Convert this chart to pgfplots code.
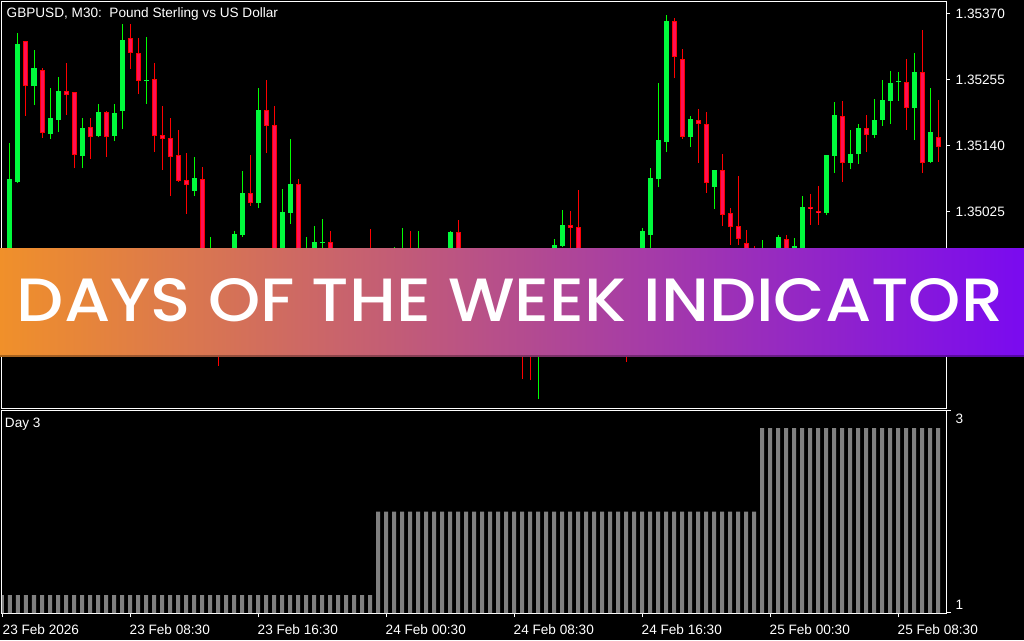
\documentclass[border=0pt]{standalone}
\usepackage{fontspec}
\setmainfont{Liberation Sans}
\usepackage{graphicx}
\usepackage{pgfplots}
\usepackage{pgfplotstable}
\pgfplotsset{compat=1.18}
\IfFontExistsTF{Poppins Medium}{\newfontfamily\bannerfont{Poppins Medium}\newcommand\bannerweight{}}{\newfontfamily\bannerfont{Poppins}\newcommand\bannerweight{\bfseries}}
\newcommand\tickfont{\fontsize{13.6}{16}\selectfont}
\definecolor{wickG}{RGB}{0,255,0}
\definecolor{bodyG}{RGB}{0,250,60}
\definecolor{wickR}{RGB}{255,0,0}
\definecolor{bodyR}{RGB}{255,15,85}
\definecolor{barG}{RGB}{128,128,128}
\definecolor{banL}{RGB}{240,144,42}
\definecolor{banR}{RGB}{122,10,240}

\pgfplotstableread{
k o h l c
1 1.34885 1.35145 1.34867 1.35082
2 1.35077 1.35337 1.35075 1.35318
4 1.35244 1.35307 1.35211 1.35276
6 1.35161 1.35241 1.35152 1.35188
7 1.35185 1.35260 1.35164 1.35236
10 1.35122 1.35188 1.35101 1.35171
12 1.35157 1.35213 1.35155 1.35199
14 1.35157 1.35213 1.35148 1.35197
15 1.35201 1.35353 1.35169 1.35325
18 1.35253 1.35330 1.35213 1.35255
24 1.35061 1.35120 1.35052 1.35084
26 1.34871 1.34981 1.34862 1.34937
28 1.34810 1.34888 1.34792 1.34871
29 1.34871 1.34991 1.34853 1.34986
30 1.34984 1.35096 1.34981 1.35058
32 1.35040 1.35241 1.35031 1.35202
35 1.34923 1.35065 1.34897 1.35024
36 1.35023 1.35152 1.35004 1.35073
38 1.34897 1.34981 1.34880 1.34949
39 1.34923 1.35000 1.34909 1.34972
40 1.34970 1.35012 1.34937 1.34972
43 1.34888 1.34913 1.34871 1.34902
45 1.34885 1.34932 1.34874 1.34923
47 1.34902 1.34937 1.34892 1.34927
49 1.34888 1.34963 1.34878 1.34937
50 1.34937 1.34997 1.34923 1.34951
52 1.34923 1.34991 1.34902 1.34949
55 1.34885 1.34944 1.34874 1.34932
56 1.34932 1.34991 1.34915 1.34990
60 1.34850 1.34888 1.34839 1.34874
63 1.34819 1.34850 1.34808 1.34836
67 1.34775 1.34819 1.34698 1.34810
68 1.34810 1.34892 1.34798 1.34885
69 1.34885 1.34977 1.34878 1.34967
70 1.34965 1.35028 1.34963 1.35002
74 1.34850 1.34880 1.34839 1.34871
77 1.34805 1.34836 1.34784 1.34822
79 1.34801 1.34871 1.34787 1.34862
80 1.34862 1.34997 1.34853 1.34991
81 1.34984 1.35101 1.34941 1.35084
82 1.35082 1.35250 1.35068 1.35150
83 1.35147 1.35368 1.35129 1.35358
86 1.35155 1.35192 1.35138 1.35187
89 1.35068 1.35098 1.35030 1.35098
95 1.34888 1.34976 1.34874 1.34923
97 1.34906 1.34984 1.34897 1.34981
99 1.34932 1.34979 1.34923 1.34965
100 1.34937 1.35052 1.34927 1.35033
103 1.35023 1.35124 1.35019 1.35124
104 1.35122 1.35216 1.35093 1.35194
106 1.35110 1.35168 1.35099 1.35126
107 1.35126 1.35178 1.35108 1.35171
109 1.35159 1.35222 1.35154 1.35185
110 1.35185 1.35255 1.35175 1.35220
111 1.35218 1.35271 1.35178 1.35250
112 1.35251 1.35269 1.35218 1.35253
114 1.35206 1.35302 1.35150 1.35269
116 1.35112 1.35241 1.35110 1.35164
}\bull

\pgfplotstableread{
k o h l c
0 1.34915 1.34937 1.34878 1.34892
3 1.35323 1.35323 1.35192 1.35244
5 1.35272 1.35276 1.35154 1.35162
8 1.35236 1.35284 1.35194 1.35229
9 1.35234 1.35234 1.35101 1.35124
11 1.35173 1.35188 1.35117 1.35155
13 1.35199 1.35201 1.35120 1.35155
16 1.35328 1.35353 1.35274 1.35302
17 1.35302 1.35328 1.35230 1.35253
19 1.35257 1.35284 1.35129 1.35157
20 1.35159 1.35209 1.35098 1.35152
21 1.35154 1.35188 1.35052 1.35120
22 1.35124 1.35168 1.35077 1.35079
23 1.35080 1.35127 1.35021 1.35072
25 1.35082 1.35103 1.34888 1.34915
27 1.34932 1.34949 1.34756 1.34819
31 1.35058 1.35124 1.35035 1.35040
33 1.35202 1.35255 1.35127 1.35175
34 1.35176 1.35209 1.34906 1.34927
37 1.35073 1.35082 1.34897 1.34923
41 1.34972 1.34991 1.34888 1.34906
42 1.34906 1.34927 1.34874 1.34888
44 1.34902 1.34923 1.34878 1.34885
46 1.34923 1.34995 1.34888 1.34902
48 1.34927 1.34944 1.34880 1.34888
51 1.34951 1.34991 1.34909 1.34923
53 1.34949 1.34955 1.34897 1.34909
54 1.34909 1.34937 1.34871 1.34885
57 1.34990 1.35010 1.34906 1.34920
58 1.34920 1.34937 1.34871 1.34880
59 1.34880 1.34897 1.34836 1.34850
61 1.34874 1.34892 1.34827 1.34839
62 1.34839 1.34862 1.34805 1.34819
64 1.34836 1.34853 1.34792 1.34805
65 1.34805 1.34833 1.34733 1.34784
66 1.34784 1.34810 1.34731 1.34775
71 1.35002 1.35026 1.34937 1.34997
72 1.34998 1.35063 1.34871 1.34888
73 1.34888 1.34906 1.34836 1.34850
75 1.34871 1.34888 1.34819 1.34833
76 1.34833 1.34862 1.34792 1.34805
78 1.34822 1.34845 1.34763 1.34801
84 1.35358 1.35363 1.35258 1.35295
85 1.35291 1.35309 1.35152 1.35155
87 1.35185 1.35204 1.35110 1.35178
88 1.35178 1.35199 1.35058 1.35075
90 1.35098 1.35126 1.35000 1.35019
91 1.35023 1.35031 1.34967 1.34998
92 1.35000 1.35087 1.34967 1.34977
93 1.34970 1.34993 1.34897 1.34915
94 1.34915 1.34965 1.34871 1.34888
96 1.34923 1.34944 1.34888 1.34906
98 1.34977 1.34984 1.34920 1.34932
101 1.35033 1.35056 1.35002 1.35030
102 1.35026 1.35070 1.35002 1.35023
105 1.35192 1.35218 1.35077 1.35110
108 1.35171 1.35194 1.35129 1.35159
113 1.35251 1.35291 1.35168 1.35206
115 1.35269 1.35342 1.35093 1.35110
117 1.35155 1.35220 1.35112 1.35138
}\bear

\begin{document}
\begin{tikzpicture}[x=1pt,y=1pt]
\fill[black] (0,0) rectangle (1024,640);
\useasboundingbox (0,0) rectangle (1024,640);

% ---------- price panel ----------
\begin{axis}[
  at={(2pt,232pt)}, anchor=south west,
  width=944pt, height=406pt, scale only axis,
  xmin=0, xmax=118, ymin=1.346824, ymax=1.353909,
  axis line style={white, line width=1pt},
  xtick=\empty,
  ytick={1.35370,1.35255,1.35140,1.35025},
  yticklabels={1.35370,1.35255,1.35140,1.35025},
  ytick pos=right, yticklabel pos=right,
  tick align=outside, major tick length=4pt,
  tick style={white, line width=1pt},
  yticklabel style={anchor=west, inner sep=0pt, xshift=5.5pt, text=white, font=\tickfont},
]
% bullish wicks and bodies
\addplot[draw=none, mark=none, forget plot,
  error bars/.cd, y dir=plus, y explicit, error mark=none,
  error bar style={draw=wickG, line width=1pt}]
  table[x=k, y=l, y error plus expr=\thisrow{h}-\thisrow{l}] {\bull};
\addplot[draw=none, mark=none, forget plot,
  error bars/.cd, y dir=plus, y explicit, error mark=none,
  error bar style={draw=bodyG, line width=5pt}]
  table[x=k, y=o, y error plus expr=\thisrow{c}-\thisrow{o}] {\bull};
% bearish wicks and bodies
\addplot[draw=none, mark=none, forget plot,
  error bars/.cd, y dir=plus, y explicit, error mark=none,
  error bar style={draw=wickR, line width=1pt}]
  table[x=k, y=l, y error plus expr=\thisrow{h}-\thisrow{l}] {\bear};
\addplot[draw=none, mark=none, forget plot,
  error bars/.cd, y dir=plus, y explicit, error mark=none,
  error bar style={draw=wickR, line width=5pt}]
  table[x=k, y=c, y error plus expr=\thisrow{o}-\thisrow{c}] {\bear};
\addplot[draw=none, mark=none, forget plot,
  error bars/.cd, y dir=plus, y explicit, error mark=none,
  error bar style={draw=bodyR, line width=3pt, shorten <=1pt, shorten >=1pt}]
  table[x=k, y=c, y error plus expr=\thisrow{o}-\thisrow{c}] {\bear};
\end{axis}

% ---------- indicator panel ----------
\begin{axis}[
  at={(2pt,27pt)}, anchor=south west,
  width=944pt, height=203pt, scale only axis,
  xmin=0, xmax=118, ymin=0.7844, ymax=3.2156,
  axis line style={white, line width=1pt},
  xtick={0.125,16,32,48,64,80,96,112},
  xticklabels={23 Feb 2026,23 Feb 08:30,23 Feb 16:30,24 Feb 00:30,24 Feb 08:30,24 Feb 16:30,25 Feb 00:30,25 Feb 08:30},
  xtick pos=bottom,
  xticklabel style={anchor=north west, inner sep=0pt, yshift=-7pt, xshift=-0.5pt, text=white, font=\tickfont},
  ytick={0.8802,3.1078}, yticklabels={1,3},
  ytick pos=right, yticklabel pos=right,
  yticklabel style={anchor=west, inner sep=0pt, xshift=5.5pt, text=white, font=\tickfont},
  tick align=outside, major tick length=4pt,
  tick style={white, line width=1pt},
  y tick style={draw=none},
]
\addplot[ybar, bar width=4pt, fill=barG, draw=none] coordinates {
(0,1)(1,1)(2,1)(3,1)(4,1)(5,1)(6,1)(7,1)(8,1)(9,1)(10,1)(11,1)(12,1)(13,1)(14,1)(15,1)
(16,1)(17,1)(18,1)(19,1)(20,1)(21,1)(22,1)(23,1)(24,1)(25,1)(26,1)(27,1)(28,1)(29,1)(30,1)
(31,1)(32,1)(33,1)(34,1)(35,1)(36,1)(37,1)(38,1)(39,1)(40,1)(41,1)(42,1)(43,1)(44,1)(45,1)(46,1)
(47,2)(48,2)(49,2)(50,2)(51,2)(52,2)(53,2)(54,2)(55,2)(56,2)(57,2)(58,2)(59,2)(60,2)(61,2)(62,2)
(63,2)(64,2)(65,2)(66,2)(67,2)(68,2)(69,2)(70,2)(71,2)(72,2)(73,2)(74,2)(75,2)(76,2)(77,2)(78,2)
(79,2)(80,2)(81,2)(82,2)(83,2)(84,2)(85,2)(86,2)(87,2)(88,2)(89,2)(90,2)(91,2)(92,2)(93,2)(94,2)
(95,3)(96,3)(97,3)(98,3)(99,3)(100,3)(101,3)(102,3)(103,3)(104,3)(105,3)(106,3)(107,3)(108,3)
(109,3)(110,3)(111,3)(112,3)(113,3)(114,3)(115,3)(116,3)(117,3)
};
\end{axis}
% short scale marks at the ends of the indicator scale
\draw[white, line width=1pt] (946,229.5) -- (951,229.5);
\draw[white, line width=1pt] (946,27.5) -- (951,27.5);

\node[anchor=base west, inner sep=0pt, text=white, font=\tickfont] at (6.5,622.3) {GBPUSD, M30:\ \ Pound Sterling vs US Dollar};
\node[anchor=base west, inner sep=0pt, text=white, font=\tickfont] at (4.8,212) {Day 3};

% ---------- banner ----------
\shade[left color=banL, right color=banR] (0,283) rectangle (1024,391);
\draw[black, opacity=0.3, line width=1.5pt] (0,283.75) -- (1024,283.75);
\node[text=white, inner sep=0pt] at (510,339.5) {\resizebox{986pt}{43pt}{\bannerfont\bannerweight DAYS OF THE WEEK INDICATOR}};
\end{tikzpicture}
\end{document}
